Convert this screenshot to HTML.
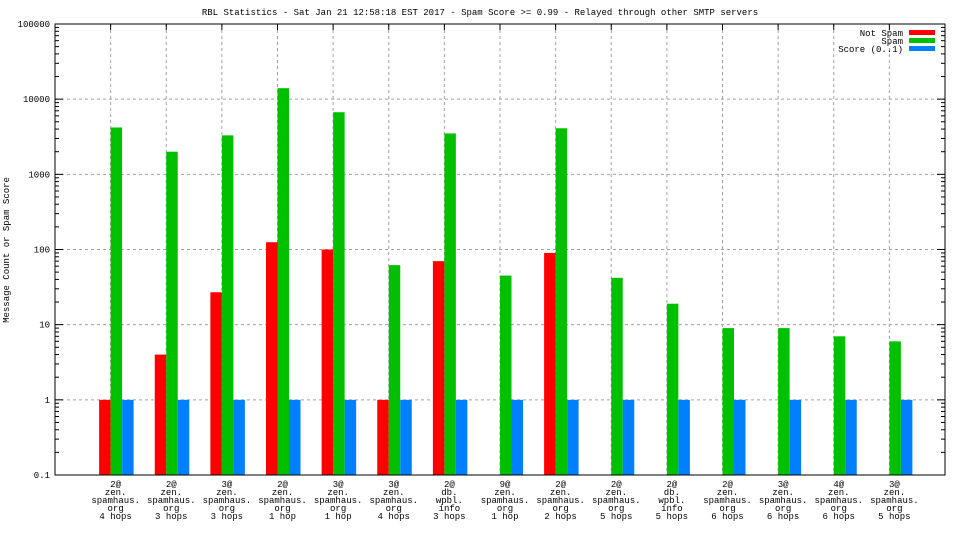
<!DOCTYPE html>
<html><head><meta charset="utf-8"><style>
body{margin:0;background:#fff;}
svg text{font-family:"Liberation Mono","DejaVu Sans Mono",monospace;font-size:9px;fill:#000;}
</style></head><body>
<svg width="960" height="540" id="c"></svg>
<script>
const categories=[["2@","zen.","spamhaus.","org","4 hops"],["2@","zen.","spamhaus.","org","3 hops"],["3@","zen.","spamhaus.","org","3 hops"],["2@","zen.","spamhaus.","org","1 hop"],["3@","zen.","spamhaus.","org","1 hop"],["3@","zen.","spamhaus.","org","4 hops"],["2@","db.","wpbl.","info","3 hops"],["9@","zen.","spamhaus.","org","1 hop"],["2@","zen.","spamhaus.","org","2 hops"],["2@","zen.","spamhaus.","org","5 hops"],["2@","db.","wpbl.","info","5 hops"],["2@","zen.","spamhaus.","org","6 hops"],["3@","zen.","spamhaus.","org","6 hops"],["4@","zen.","spamhaus.","org","6 hops"],["3@","zen.","spamhaus.","org","5 hops"]];
const notSpam=[1,4,27,125,100,1,70,0,90,0,0,0,0,0,0];
const spam=[4200,2000,3300,14000,6700,62,3500,45,4100,42,19,9,9,7,6];
const score=[1,1,1,1,1,1,1,1,1,1,1,1,1,1,1];
const yTicks=["0.1","1","10","100","1000","10000","100000"];
const NS="http://www.w3.org/2000/svg";
const svg=document.getElementById('c');
const L=55,R=945,T=24,B=475;
function y(v){return B-(Math.log10(v)+1)*(B-T)/6;}
function x(i){return L+(i+1)*(R-L)/(categories.length+1);}
function mk(t,a,p){const e=document.createElementNS(NS,t);for(const k in a)e.setAttribute(k,a[k]);(p||svg).appendChild(e);return e;}
// title
let t=mk('text',{x:480,y:15,'text-anchor':'middle'});t.textContent="RBL Statistics - Sat Jan 21 12:58:18 EST 2017 - Spam Score >= 0.99 - Relayed through other SMTP servers";


// y grid & labels
yTicks.forEach((s,k)=>{const v=parseFloat(s),yy=y(v);
 if(k>0&&k<6){const g=mk('line',{x1:L,x2:R,y1:yy,y2:yy,stroke:'#a0a0a0','stroke-dasharray':'3,3'});}
 const lb=mk('text',{x:L-5,y:yy+3,'text-anchor':'end'});lb.textContent=s;
 
 
 mk('line',{x1:L,x2:L+8,y1:yy,y2:yy,stroke:'#000'});mk('line',{x1:R,x2:R-8,y1:yy,y2:yy,stroke:'#000'});
 if(k<6)for(let m=2;m<10;m++){const ym=y(v*m);mk('line',{x1:L,x2:L+4,y1:ym,y2:ym,stroke:'#000'});mk('line',{x1:R,x2:R-4,y1:ym,y2:ym,stroke:'#000'});}
});
// x grid
categories.forEach((c,i)=>{const xx=x(i);
 const g=mk('line',{x1:xx,x2:xx,y1:T,y2:B,stroke:'#a0a0a0','stroke-dasharray':'3,3'});
 mk('line',{x1:xx,x2:xx,y1:T,y2:T+6,stroke:'#000'});
});
// bars
const bw=11.5;
function bar(v,xx,col,name){if(!(v>0))return;const yy=y(v);const r=mk('rect',{x:xx,y:yy,width:bw,height:B-yy,fill:col});}
categories.forEach((c,i)=>{const xx=x(i);
 bar(notSpam[i],xx-bw,'#ff0000','bar-not-spam');
 bar(spam[i],xx,'#00c000','bar-spam');
 bar(score[i],xx+bw,'#0080ff','bar-score');
 const lt=mk('text',{x:xx+5,y:B+12,'text-anchor':'middle'});
 
 
 c.forEach((s,j)=>{const ts=mk('tspan',{x:xx+5,dy:j?8:0},lt);ts.textContent=s;});
});
// border
const bd=mk('rect',{x:L,y:T,width:R-L,height:B-T,fill:'none',stroke:'#000','stroke-width':1});


// y title
const yt=mk('text',{x:9,y:250,'text-anchor':'middle',transform:'rotate(-90 9 250)'});yt.textContent="Message Count or Spam Score";


// legend
[["Not Spam","#ff0000"],["Spam","#00c000"],["Score (0..1)","#0080ff"]].forEach((l,k)=>{
 const g=mk('g',{});
 
 
 const tx=mk('text',{x:903,y:36+k*8,'text-anchor':'end'},g);tx.textContent=l[0];
 mk('rect',{x:909,y:30+k*8,width:26,height:5,fill:l[1]},g);
});
</script>
</body></html>
